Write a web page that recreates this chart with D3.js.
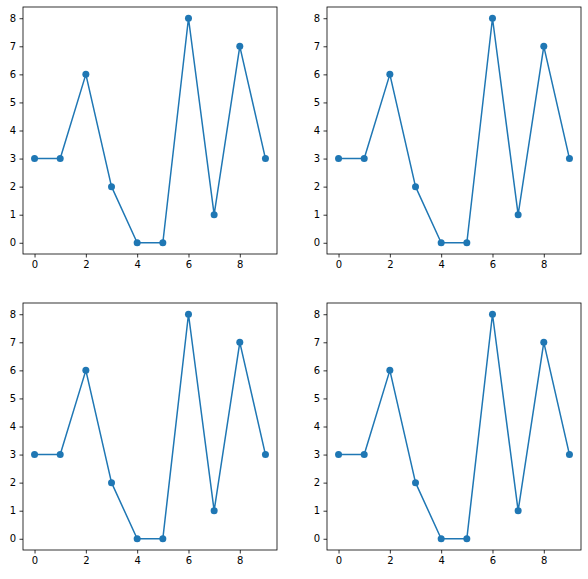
<!DOCTYPE html>
<html>
<head>
<meta charset="utf-8">
<script src="https://cdn.jsdelivr.net/npm/d3@7"></script>
<style>
  body { margin: 0; background: #fff; }
  svg text { font-family: "DejaVu Sans", sans-serif; font-size: 10px; fill: #000; }
</style>
</head>
<body>
<svg id="chart" width="588" height="579"></svg>
<script>
var xs = [0, 1, 2, 3, 4, 5, 6, 7, 8, 9];
var ys = [3, 3, 6, 2, 0, 0, 8, 1, 7, 3];
var xTicks = [0, 2, 4, 6, 8];
var yTicks = [0, 1, 2, 3, 4, 5, 6, 7, 8];

var color = "#1f77b4";
var panels = [
  { left: 23, top: 7 },
  { left: 327, top: 7 },
  { left: 23, top: 303 },
  { left: 327, top: 303 }
];
var w = 254, h = 247;

var svg = d3.select("#chart");

panels.forEach(function(p) {
  var x = d3.scaleLinear().domain([-0.45, 9.45]).range([0, w]);
  var y = d3.scaleLinear().domain([-0.4, 8.4]).range([h, 0]);

  var g = svg.append("g")
    .attr("transform", "translate(" + p.left + "," + p.top + ")");

  var line = d3.line()
    .x(function(d, i) { return x(xs[i]); })
    .y(function(d) { return y(d); });

  g.append("path")
    .datum(ys)
    .attr("d", line)
    .attr("fill", "none")
    .attr("stroke", color)
    .attr("stroke-width", 1.5)
    .attr("stroke-linejoin", "round");

  g.selectAll(".dot")
    .data(ys)
    .enter()
    .append("circle")
    .attr("class", "dot")
    .attr("cx", function(d, i) { return x(xs[i]); })
    .attr("cy", function(d) { return y(d); })
    .attr("r", 3.5)
    .attr("fill", color);

  var xAxis = g.append("g")
    .attr("transform", "translate(0," + h + ")")
    .call(d3.axisBottom(x).tickValues(xTicks).tickSize(3.5).tickPadding(3.5).tickFormat(d3.format("d")));
  var yAxis = g.append("g")
    .call(d3.axisLeft(y).tickValues(yTicks).tickSize(3.5).tickPadding(3.5).tickFormat(d3.format("d")));

  [xAxis, yAxis].forEach(function(a) {
    a.select(".domain").remove();
    a.selectAll("line").attr("stroke", "#000").attr("stroke-width", 0.8);
    a.selectAll("text").style("font-family", "DejaVu Sans").style("font-size", "10px");
  });

  g.append("rect")
    .attr("width", w)
    .attr("height", h)
    .attr("fill", "none")
    .attr("stroke", "#000")
    .attr("stroke-width", 0.8);
});
</script>
</body>
</html>
